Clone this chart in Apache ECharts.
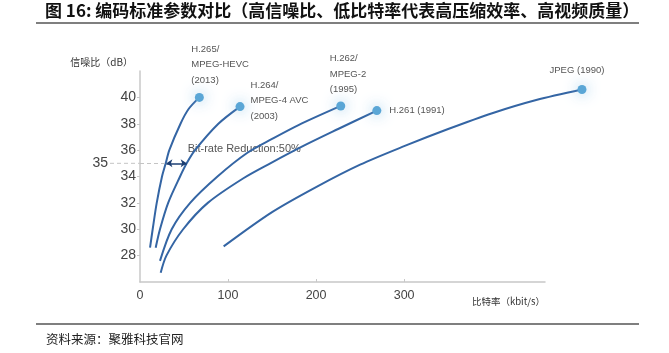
<!DOCTYPE html>
<html>
<head>
<meta charset="utf-8">
<title>编码标准参数对比</title>
<script src="https://cdn.jsdelivr.net/npm/echarts@6/dist/echarts.min.js"></script>
<style>
    html, body { margin: 0; padding: 0; background: #fff; }
    #chart { width: 669px; height: 353px; }
</style>
</head>
<body>
<div id="chart"></div>
<script>
// 各编码标准的 比特率(kbit/s) - 信噪比(dB) 曲线
const h265Points = [[11.4, 28.6], [14.4, 30], [19, 32], [25, 34], [29.2, 35], [33.3, 36], [46, 38], [55, 39.1], [67.4, 40]];
const h264Points = [[17.8, 28.6], [22.7, 30], [32, 32], [45.5, 34], [53, 35], [62.5, 36], [89, 38], [113.6, 39.3]];
const h262Points = [[22.7, 27.6], [36, 30], [57, 32], [88, 34], [122, 35.8], [150, 36.85], [180, 37.9], [228, 39.35]];
const h261Points = [[23.5, 26.7], [30, 28], [49, 30], [77, 32], [117, 33.85], [148, 35], [185, 36.3], [225, 37.6], [269, 39]];
const jpegPoints = [[95, 28.7], [150, 31.3], [200, 33.2], [250, 34.9], [300, 36.3], [350, 37.6], [400, 38.8], [450, 39.8], [502, 40.6]];

const codecNames = ['H.265', 'H.264', 'H.262', 'H.261', 'JPEG'];
const endLabels = ['H.265/\nMPEG-HEVC\n(2013)', 'H.264/\nMPEG-4 AVC\n(2003)', 'H.262/\nMPEG-2\n(1995)', 'H.261 (1991)', 'JPEG (1990)'];

// 坐标轴刻度
const xTicks = [0, 100, 200, 300];
const yTicks = [28, 30, 32, 34, 36, 38, 40];
const xAxisMax = 460;   // 可见坐标轴的终点
const xDataMax = 520;   // JPEG 端点超出坐标轴，曲线用更宽的隐藏坐标系

// 35dB 处的码率对比（H.265 vs H.264）
const refSnr = 35;
const refRateFrom = 30;
const refRateTo = 53;

document.addEventListener('DOMContentLoaded', function() {
    const chartDom = document.getElementById('chart');
    const myChart = echarts.init(chartDom, null, { renderer: 'canvas' });

    const allPoints = [h265Points, h264Points, h262Points, h261Points, jpegPoints];

    // 两个网格保持同一比例：可见轴宽 405px 对应 0-460
    const gridLeft = 140, gridTop = 71, gridHeight = 211, axisWidth = 405;
    const dataWidth = axisWidth * xDataMax / xAxisMax;

    // 端点标签位置（样式）
    const labelLayouts = [
        { position: 'top', align: 'left', offset: [-8, 0], distance: 5 },
        { position: 'right', offset: [0, -6], distance: 6 },
        { position: 'top', align: 'left', offset: [-11, 0], distance: 4 },
        { position: 'right', offset: [0, 0], distance: 8 },
        { position: 'top', offset: [-5, 0], distance: 7 }
    ];

    const lineColor = '#3465a4';
    const dotColor = '#5aa6d6';
    const labelFont = 'Liberation Sans, Arial, sans-serif';
    const cjkFont = '"Noto Sans CJK SC", sans-serif';
    const axisGray = '#c8c8c8';

    const series = allPoints.map(function(points, i) {
        const last = points.length - 1;
        const layout = labelLayouts[i];
        const s = {
            name: codecNames[i],
            type: 'line',
            xAxisIndex: 1,
            yAxisIndex: 1,
            smooth: 0.3,
            smoothConstraint: false,
            symbol: 'none',
            clip: false,
            silent: true,
            lineStyle: { color: lineColor, width: 2 },
            data: points.map(function(p, j) {
                if (j !== last) return { value: p };
                return {
                    value: p,
                    symbol: 'circle',
                    symbolSize: 9,
                    itemStyle: {
                        color: dotColor,
                        shadowBlur: 14,
                        shadowColor: 'rgba(120,185,228,0.9)'
                    },
                    label: {
                        show: true,
                        formatter: endLabels[i],
                        position: layout.position,
                        align: layout.align,
                        offset: layout.offset,
                        distance: layout.distance,
                        fontFamily: labelFont,
                        fontSize: 9.5,
                        lineHeight: 15.5,
                        color: '#555'
                    }
                };
            })
        };
        if (i === 0) {
            s.markLine = {
                silent: true,
                animation: false,
                label: { show: false },
                data: [
                    [
                        { coord: [0, refSnr], symbol: 'none', lineStyle: { color: '#c4c4c4', type: [4, 3], width: 1 } },
                        { coord: [refRateFrom, refSnr], symbol: 'none' }
                    ],
                    [
                        { coord: [refRateFrom, refSnr], symbol: 'arrow', symbolSize: 6, lineStyle: { color: '#1d3f73', type: 'solid', width: 1.5 } },
                        { coord: [refRateTo, refSnr], symbol: 'arrow', symbolSize: 6 }
                    ]
                ]
            };
        }
        return s;
    });

    const option = {
        backgroundColor: '#fff',
        animation: false,
        title: {
            text: '图 16: 编码标准参数对比（高信噪比、低比特率代表高压缩效率、高视频质量）',
            left: 45,
            top: 2,
            padding: 0,
            textStyle: {
                fontFamily: cjkFont,
                fontSize: 17,
                fontWeight: 'bold',
                color: '#111'
            }
        },
        grid: [
            { left: gridLeft, top: gridTop, width: axisWidth, height: gridHeight },
            { left: gridLeft, top: gridTop, width: dataWidth, height: gridHeight }
        ],
        xAxis: [
            {
                type: 'value',
                gridIndex: 0,
                min: 0,
                max: xAxisMax,
                name: '比特率（kbit/s）',
                nameLocation: 'end',
                nameGap: 0,
                nameTextStyle: {
                    fontFamily: cjkFont,
                    fontSize: 9.5,
                    color: '#333',
                    align: 'right',
                    verticalAlign: 'top',
                    padding: [15, 0, 0, 0]
                },
                axisLine: { lineStyle: { color: axisGray, width: 1.5 } },
                axisTick: { show: true, inside: true, length: 3, customValues: xTicks.slice(1), lineStyle: { color: axisGray } },
                axisLabel: { customValues: xTicks, fontFamily: labelFont, fontSize: 12.5, color: '#444', margin: 7 },
                splitLine: { show: false }
            },
            {
                type: 'value',
                gridIndex: 1,
                min: 0,
                max: xDataMax,
                show: false
            }
        ],
        yAxis: [
            {
                type: 'value',
                gridIndex: 0,
                min: 26,
                max: 42,
                interval: 2,
                name: '信噪比（dB）',
                nameLocation: 'end',
                nameGap: 9,
                nameTextStyle: {
                    fontFamily: cjkFont,
                    fontSize: 10,
                    color: '#333',
                    align: 'right',
                    verticalAlign: 'middle',
                    padding: [0, 7, 0, 0]
                },
                axisLine: { show: true, lineStyle: { color: axisGray, width: 1.5 } },
                axisTick: { show: true, length: 3, customValues: yTicks, lineStyle: { color: axisGray } },
                axisLabel: { customValues: yTicks, fontFamily: labelFont, fontSize: 14, color: '#444', margin: 4 },
                splitLine: { show: false }
            },
            {
                type: 'value',
                gridIndex: 1,
                min: 26,
                max: 42,
                interval: 2,
                show: false
            }
        ],
        series: series
    };

    myChart.setOption(option);

    // 根据坐标换算出注释位置
    const pAxis = myChart.convertToPixel({ gridIndex: 0 }, [0, refSnr]);
    const pTo = myChart.convertToPixel({ gridIndex: 1 }, [refRateTo, refSnr]);
    const ruleLeft = 36;
    const ruleRight = 639;

    myChart.setOption({
        graphic: [
            {
                type: 'line',
                shape: { x1: ruleLeft, y1: 23, x2: ruleRight, y2: 23 },
                style: { stroke: '#555', lineWidth: 1.5 }
            },
            {
                type: 'line',
                shape: { x1: ruleLeft, y1: 324, x2: ruleRight, y2: 324 },
                style: { stroke: '#555', lineWidth: 1.5 }
            },
            {
                type: 'text',
                left: 46,
                top: 333,
                style: {
                    text: '资料来源：聚雅科技官网',
                    font: '12.5px "Noto Sans CJK SC", sans-serif',
                    fill: '#222'
                }
            },
            {
                type: 'line',
                shape: { x1: pAxis[0] - 30, y1: pAxis[1], x2: pAxis[0], y2: pAxis[1] },
                style: { stroke: '#c4c4c4', lineWidth: 1, lineDash: [4, 3] }
            },
            {
                type: 'text',
                x: pAxis[0] - 32,
                y: pAxis[1],
                style: {
                    text: String(refSnr),
                    font: '14px Liberation Sans, Arial, sans-serif',
                    fill: '#444',
                    align: 'right',
                    verticalAlign: 'middle'
                }
            },
            {
                type: 'text',
                x: pTo[0] + 1,
                y: pTo[1] - 14,
                style: {
                    text: 'Bit-rate Reduction:50%',
                    font: '11px Liberation Sans, Arial, sans-serif',
                    fill: '#555',
                    align: 'left',
                    verticalAlign: 'middle'
                }
            }
        ]
    });

    window.addEventListener('resize', function() {
        myChart.resize();
    });
});
</script>
</body>
</html>
